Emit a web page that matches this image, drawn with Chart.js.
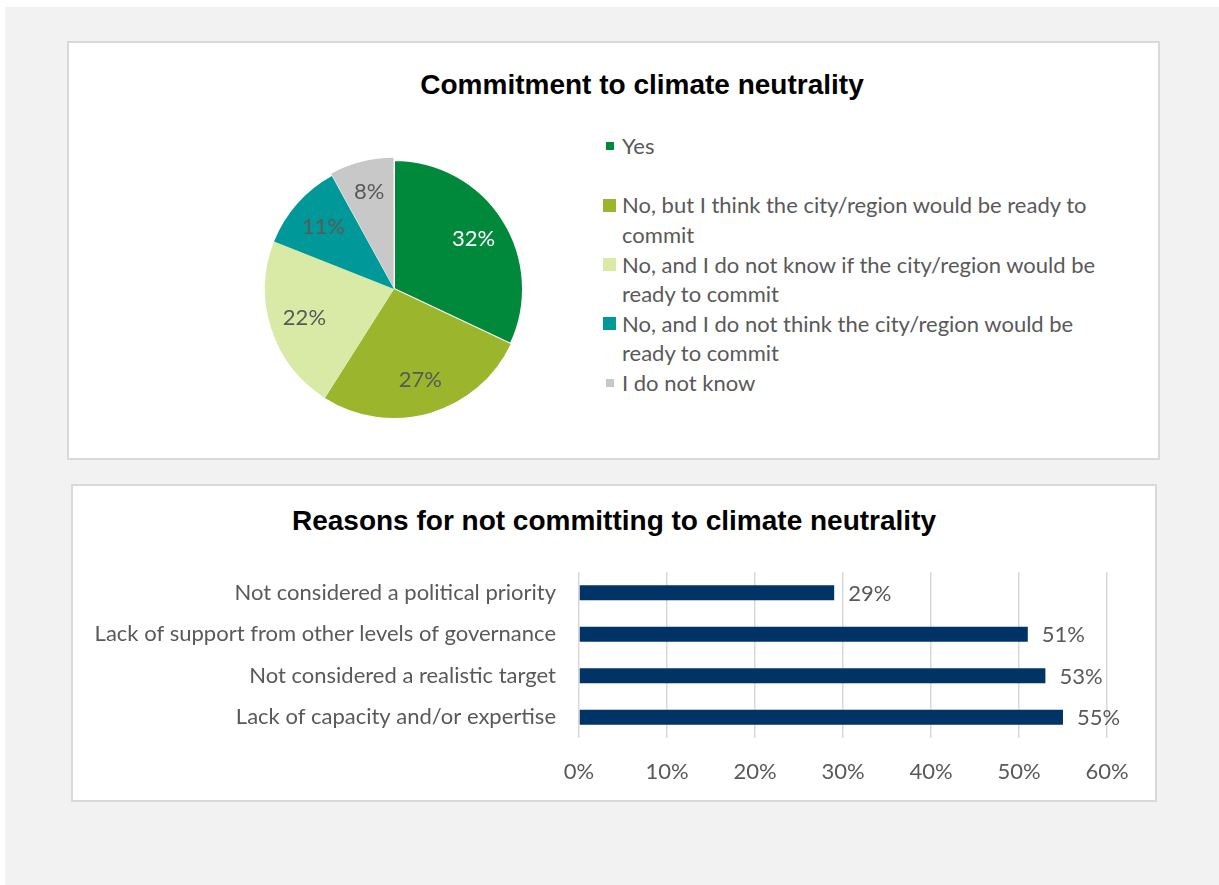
<!DOCTYPE html>
<html>
<head>
<meta charset="utf-8">
<script src="https://cdn.jsdelivr.net/npm/chart.js@4.4.1/dist/chart.umd.min.js"></script>
<style>
    body { margin: 0; width: 1219px; height: 885px; background: #fff; position: relative; overflow: hidden; font-family: Lato, sans-serif; }
    #backdrop { position: absolute; left: 5px; top: 7px; right: 0; bottom: 0; background: #f2f2f2; }
    .panel { position: absolute; background: #fff; border: 2px solid #d9d9d9; box-sizing: border-box; }
    .title { position: absolute; font: bold 28px "Liberation Sans", Arial, sans-serif; color: #000; white-space: nowrap; transform: translateX(-50%); }
    canvas { position: absolute; }
    #pieLegend { position: absolute; left: 603px; top: 131px; width: 510px; color: #595959; font-size: 22px; }
    #pieLegend .item { position: relative; height: 59.3px; padding-left: 19px; line-height: 29.6px; }
    #pieLegend .mark { position: absolute; }
</style>
</head>
<body>
<div id="backdrop"></div>
<div class="panel" style="left:67px; top:41px; width:1093px; height:419px;"></div>
<div class="panel" style="left:71px; top:484px; width:1086px; height:318px;"></div>

<div class="title" style="left:642px; top:69px;">Commitment to climate neutrality</div>
<div class="title" style="left:614px; top:505px;">Reasons for not committing to climate neutrality</div>

<canvas id="pieChart" width="280" height="280" style="left:254px; top:149px;"></canvas>
<div id="pieLegend"></div>
<canvas id="barChart" width="1082" height="314" style="left:73px; top:486px;"></canvas>

<script>
    // Commitment answers (percent of respondents)
    var pieLabels = [
        'Yes',
        'No, but I think the city/region would be ready to commit',
        'No, and I do not know if the city/region would be ready to commit',
        'No, and I do not think the city/region would be ready to commit',
        'I do not know'
    ];
    var pieValues = [32, 27, 22, 11, 8];
    var pieColors = ['#00893b', '#9bb52c', '#d9e9a6', '#009899', '#c8c8c8'];

    // Reasons for not committing (percent)
    var reasonLabels = [
        'Not considered a political priority',
        'Lack of support from other levels of governance',
        'Not considered a realistic target',
        'Lack of capacity and/or expertise'
    ];
    var reasonValues = [29, 51, 53, 55];

    var textGray = '#595959';
    Chart.defaults.font.family = 'Lato, sans-serif';
    Chart.defaults.font.size = 22;
    Chart.defaults.color = textGray;

    // Percent labels inside the slices
    var sliceLabels = {
        id: 'sliceLabels',
        afterDatasetsDraw: function (chart) {
            var ctx = chart.ctx;
            var meta = chart.getDatasetMeta(0);
            var offsets = chart.data.datasets[0].offset;
            ctx.save();
            ctx.font = '22px Lato, sans-serif';
            ctx.textAlign = 'center';
            ctx.textBaseline = 'middle';
            meta.data.forEach(function (arc, i) {
                var mid = (arc.startAngle + arc.endAngle) / 2;
                var r = arc.outerRadius * 0.73 + (offsets[i] || 0);
                ctx.fillStyle = i === 0 ? '#ffffff' : textGray;
                ctx.fillText(pieValues[i] + '%', arc.x + Math.cos(mid) * r, arc.y + Math.sin(mid) * r);
            });
            ctx.restore();
        }
    };

    new Chart(document.getElementById('pieChart'), {
        type: 'pie',
        data: {
            labels: pieLabels,
            datasets: [{
                data: pieValues,
                backgroundColor: pieColors,
                borderColor: '#ffffff',
                borderWidth: [2, 0, 0, 0, 0],
                offset: [0, 0, 0, 0, 6]
            }]
        },
        options: {
            responsive: false,
            devicePixelRatio: 1,
            animation: false,
            radius: 129,
            plugins: { legend: { display: false }, tooltip: { enabled: false } }
        },
        plugins: [sliceLabels]
    });

    // Legend beside the pie, wrapping long answers onto two lines
    var markSizes = [8, 13, 13, 13, 8];
    var legendEl = document.getElementById('pieLegend');
    pieLabels.forEach(function (label, i) {
        var item = document.createElement('div');
        item.className = 'item';
        var mark = document.createElement('span');
        mark.className = 'mark';
        var s = markSizes[i];
        mark.style.cssText = 'width:' + s + 'px;height:' + s + 'px;background:' + pieColors[i] +
            ';left:' + (6.5 - s / 2) + 'px;top:' + (14.8 - s / 2) + 'px;';
        item.appendChild(mark);
        item.appendChild(document.createTextNode(label));
        legendEl.appendChild(item);
    });

    // Value labels at the end of each bar
    var barValueLabels = {
        id: 'barValueLabels',
        afterDatasetsDraw: function (chart) {
            var ctx = chart.ctx;
            ctx.save();
            ctx.font = '22px Lato, sans-serif';
            ctx.fillStyle = textGray;
            ctx.textAlign = 'left';
            ctx.textBaseline = 'middle';
            chart.getDatasetMeta(0).data.forEach(function (bar, i) {
                ctx.fillText(reasonValues[i] + '%', bar.x + 14, bar.y + 1);
            });
            ctx.restore();
        }
    };

    new Chart(document.getElementById('barChart'), {
        type: 'bar',
        data: {
            labels: reasonLabels,
            datasets: [{
                data: reasonValues,
                backgroundColor: '#003366',
                barPercentage: 0.36,
                categoryPercentage: 1
            }]
        },
        options: {
            indexAxis: 'y',
            responsive: false,
            devicePixelRatio: 1,
            animation: false,
            layout: { padding: { top: 86, right: 48, left: 0, bottom: 0 } },
            scales: {
                x: {
                    min: 0,
                    max: 60,
                    border: { display: false },
                    grid: { color: '#d9d9d9', lineWidth: 1.5, drawTicks: false },
                    ticks: { stepSize: 10, padding: 21, callback: function (v) { return v + '%'; } },
                    afterFit: function (scale) { scale.height = 62; }
                },
                y: {
                    border: { display: false },
                    grid: { display: false, drawTicks: false },
                    ticks: { padding: 23 },
                    afterFit: function (scale) { scale.width = 506; }
                }
            },
            plugins: { legend: { display: false }, tooltip: { enabled: false } }
        },
        plugins: [barValueLabels]
    });
</script>
</body>
</html>
